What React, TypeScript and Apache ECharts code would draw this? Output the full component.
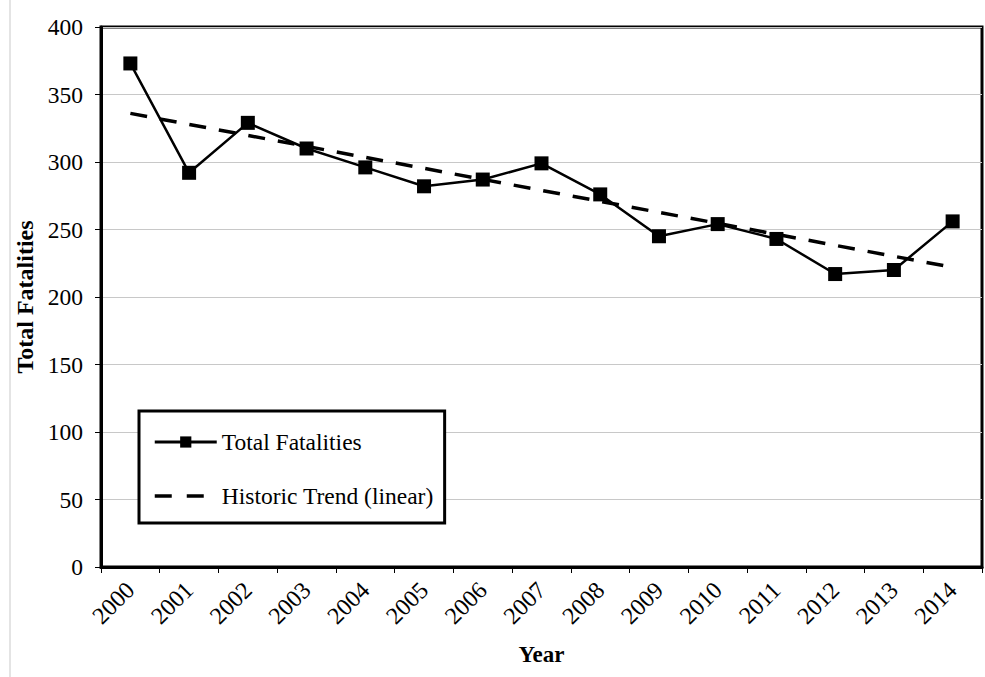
import React, { useEffect, useRef } from "react";
import * as echarts from "echarts";

const years = ["2000","2001","2002","2003","2004","2005","2006","2007","2008","2009","2010","2011","2012","2013","2014"];
const totalFatalities = [373, 292, 329, 310, 296, 282, 287, 299, 276, 245, 254, 243, 217, 220, 256];
const trendStart = 336;
const trendEnd = 222;
const yTicks = { min: 0, max: 400, interval: 50 };

const FONT = '"Liberation Serif", "Times New Roman", serif';

export default function App() {
  const ref = useRef<HTMLDivElement>(null);
  useEffect(() => {
    if (!ref.current) return;
    const chart = echarts.init(ref.current, null, { renderer: "svg" });
    chart.setOption({
      animation: false,
      backgroundColor: "#fff",
      textStyle: { fontFamily: FONT, color: "#000" },
      grid: {
        left: 101, top: 27, right: 3, bottom: 110,
        show: true, borderColor: "#000", borderWidth: 3, backgroundColor: "#fff",
      },
      legend: {
        orient: "vertical",
        left: 139, top: 411,
        padding: [19, 11, 15, 14],
        itemGap: 30,
        itemWidth: 62,
        itemHeight: 14,
        borderColor: "#000",
        borderWidth: 3,
        backgroundColor: "#fff",
        textStyle: { fontFamily: FONT, fontSize: 23.5, color: "#000" },
        data: [
          { name: "Total Fatalities", lineStyle: { width: 3 } },
          { name: "Historic Trend (linear)", itemStyle: { opacity: 0 }, lineStyle: { width: 3.5, type: [17, 15] } },
        ],
      },
      xAxis: {
        type: "category",
        data: years,
        boundaryGap: true,
        name: "Year",
        nameLocation: "middle",
        nameGap: 76,
        nameTextStyle: { fontFamily: FONT, fontSize: 23, fontWeight: "bold", color: "#000" },
        axisLine: { lineStyle: { color: "#000", width: 3 } },
        axisTick: { show: true, length: 6, lineStyle: { color: "#000", width: 1 } },
        axisLabel: { rotate: 45, fontSize: 24, color: "#000", fontFamily: FONT, margin: 19 },
        splitLine: { show: false },
      },
      yAxis: {
        type: "value",
        min: yTicks.min, max: yTicks.max, interval: yTicks.interval,
        name: "Total Fatalities",
        nameLocation: "middle",
        nameGap: 64,
        nameTextStyle: { fontFamily: FONT, fontSize: 24, fontWeight: "bold", color: "#000" },
        axisLine: { show: true, lineStyle: { color: "#000", width: 3 } },
        axisTick: { show: true, length: 6, lineStyle: { color: "#000", width: 1 } },
        axisLabel: { fontSize: 23.5, color: "#000", fontFamily: FONT, margin: 18 },
        splitLine: { show: true, lineStyle: { color: "#c8c8c8", width: 1 } },
      },
      graphic: [
        { type: "line", shape: { x1: 10, y1: 0, x2: 10, y2: 677 }, style: { stroke: "#e4e4e4", lineWidth: 2 }, silent: true },
      ],
      series: [
        {
          name: "Historic Trend (linear)",
          type: "line",
          data: [[years[0], trendStart], [years[years.length - 1], trendEnd]],
          symbol: "none",
          lineStyle: { color: "#000", width: 3.5, type: [17, 13] },
          itemStyle: { color: "#000" },
          z: 2,
        },
        {
          name: "Total Fatalities",
          type: "line",
          data: totalFatalities,
          symbol: "rect",
          symbolSize: 14,
          lineStyle: { color: "#000", width: 2.5 },
          itemStyle: { color: "#000" },
          z: 3,
        },
      ],
    });
    return () => chart.dispose();
  }, []);
  return <div ref={ref} style={{ position: "absolute", left: 0, top: 0, width: 985, height: 677 }} />;
}
